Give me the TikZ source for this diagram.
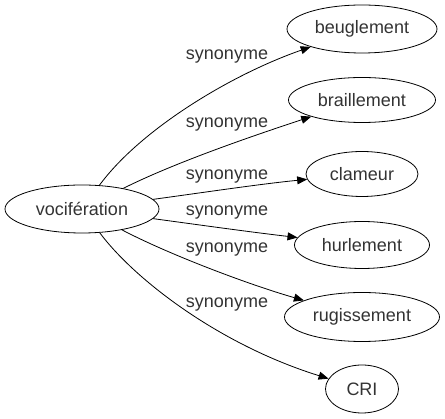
\documentclass[tikz,border=0pt]{standalone}
\usepackage{fontspec}
\setmainfont{Liberation Sans}
\usetikzlibrary{arrows.meta,shapes.geometric}
\definecolor{txt}{HTML}{333333}
\begin{document}
\begin{tikzpicture}[x=1pt,y=-1pt,
  term/.style={draw=black,ellipse,line width=0.8pt,inner sep=0pt,text=txt,font=\fontsize{18}{20}\selectfont},
  lbl/.style={text=txt,font=\fontsize{18}{20}\selectfont,inner sep=0pt},
  edge/.style={line width=0.8pt,-{Triangle[length=10pt,width=8pt]}}]
\useasboundingbox (0,0) rectangle (445,419);
\node[term,minimum width=154,minimum height=48] (v) at (82,209) {vocifération};
\node[term,minimum width=150,minimum height=48] (b) at (362,29) {beuglement};
\node[term,minimum width=147,minimum height=45] (br) at (362,100) {braillement};
\node[term,minimum width=112,minimum height=45] (c) at (362,174) {clameur};
\node[term,minimum width=135,minimum height=47] (h) at (362,245) {hurlement};
\node[term,minimum width=155,minimum height=49] (r) at (362,317) {rugissement};
\node[term,minimum width=73,minimum height=48] (cri) at (362,389) {CRI};
\draw[edge] (v) .. controls (140,130) and (230,75) .. (b);
\draw[edge] (v) .. controls (170,165) and (240,140) .. (br);
\draw[edge] (v) .. controls (200,193) and (260,184) .. (c);
\draw[edge] (v) .. controls (200,225) and (250,232) .. (h);
\draw[edge] (v) .. controls (170,255) and (250,285) .. (r);
\draw[edge] (v) .. controls (135,280) and (220,345) .. (cri);
\node[lbl] (l1) at (227,57) {synonyme};
\node[lbl] (l2) at (227,125) {synonyme};
\node[lbl] (l3) at (227,177) {synonyme};
\node[lbl] (l4) at (227,213) {synonyme};
\node[lbl] (l5) at (227,250) {synonyme};
\node[lbl] (l6) at (227,305) {synonyme};
\end{tikzpicture}
\end{document}
